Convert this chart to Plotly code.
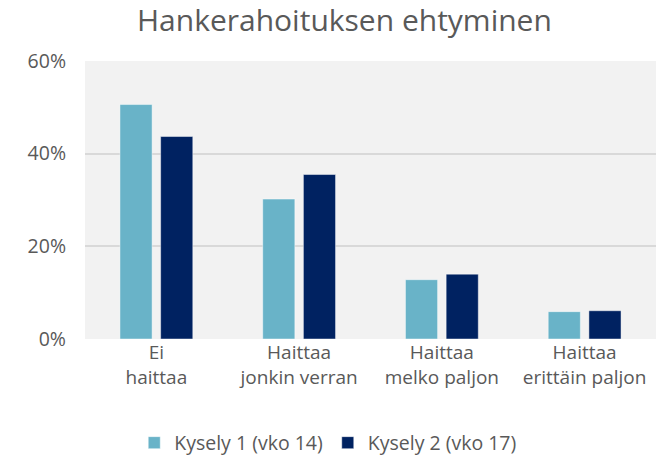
import plotly.graph_objects as go

categories = ["Ei<br>haittaa", "Haittaa<br>jonkin verran", "Haittaa<br>melko paljon", "Haittaa<br>erittäin paljon"]
kysely1 = [50.6, 30.2, 12.8, 5.9]
kysely2 = [43.7, 35.5, 14.0, 6.1]
series_names = ["Kysely 1 (vko 14)", "Kysely 2 (vko 17)"]
y_ticks = [0, 20, 40, 60]
y_tick_labels = ["0%", "20%", "40%", "60%"]

FONT = "Open Sans"
TXT = "#595959"

fig = go.Figure()
fig.add_trace(go.Bar(x=categories, y=kysely1, name=series_names[0],
                     marker=dict(color="#69B3C8", line=dict(color="rgba(255,255,255,0.45)", width=1))))
fig.add_trace(go.Bar(x=categories, y=kysely2, name=series_names[1],
                     marker=dict(color="#002261", line=dict(color="rgba(255,255,255,0.45)", width=1))))

fig.update_layout(
    width=656, height=456,
    margin=dict(l=85, r=0, t=61, b=117, autoexpand=False),
    paper_bgcolor="white",
    plot_bgcolor="#F2F2F2",
    barmode="group",
    bargap=0.43,
    bargroupgap=0.21,
    font=dict(family=FONT, color=TXT, size=19),
    title=dict(text="Hankerahoituksen ehtyminen", x=0.525, xanchor="center",
               y=0.955, yanchor="middle", yref="container",
               font=dict(family=FONT, size=30, color=TXT)),
    legend=dict(orientation="h", x=0.426, xanchor="center", y=-0.374, yanchor="middle",
                font=dict(family=FONT, size=19.5, color=TXT), itemwidth=30,
                traceorder="normal", bgcolor="rgba(0,0,0,0)"),
    showlegend=True,
)
fig.update_yaxes(range=[0, 60], tickmode="array", tickvals=y_ticks, ticktext=y_tick_labels,
                 showgrid=True, automargin=False,
                 gridcolor="#D9D9D9", gridwidth=1.5, zeroline=False, showline=False,
                 ticks="", ticklabelstandoff=18, tickfont=dict(size=19.5, color=TXT))
fig.update_xaxes(showgrid=False, showline=False, ticks="", automargin=False,
                 tickfont=dict(size=19, color=TXT))

fig.write_html("out.html", config={"displayModeBar": False},
               post_script="document.body.style.margin='0px';document.body.style.overflow='hidden';")
